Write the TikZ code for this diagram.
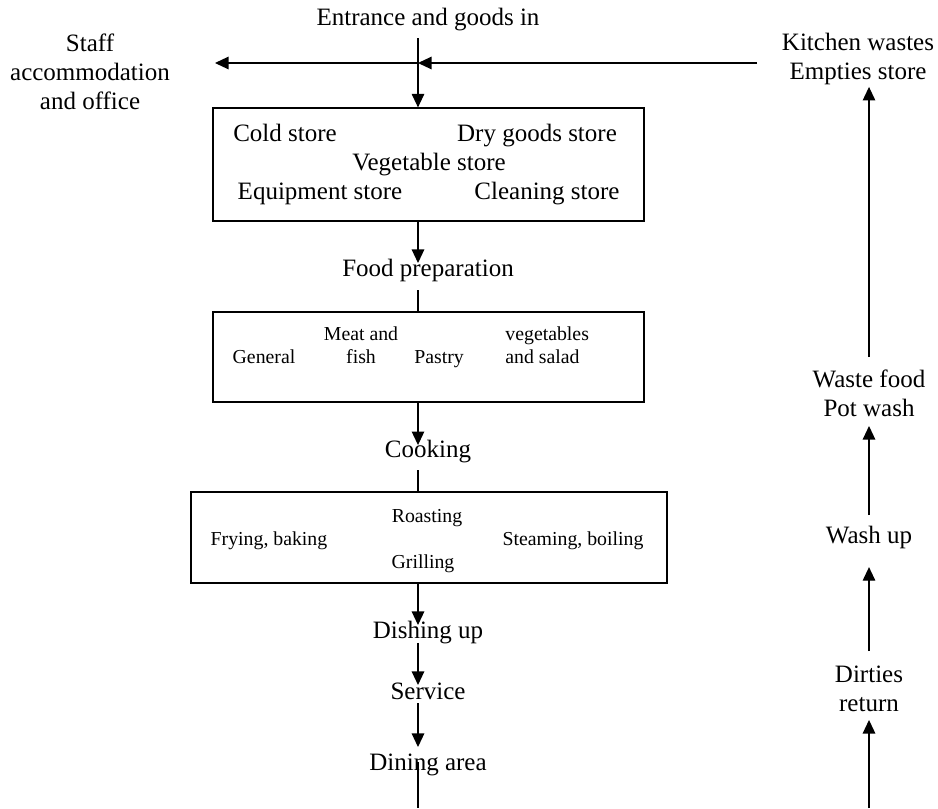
\documentclass[tikz,border=0pt]{standalone}
\usepackage{fontspec}
\setmainfont{Liberation Serif}
\usepackage{tikz}
\usetikzlibrary{arrows.meta,calc,positioning}
\tikzset{>={Triangle[length=6.5pt,width=6pt]}}
\tikzset{
  lblm/.style={inner sep=0pt, align=center, font=\fontsize{12}{13.8}\selectfont},
  lbl/.style={lblm, text height=11pt, text depth=2.5pt},
  smlm/.style={inner sep=0pt, align=center, font=\fontsize{9.5}{10.9}\selectfont},
  sml/.style={smlm, text height=9.5pt, text depth=2.5pt},
  room/.style={draw, line width=0.6pt, inner sep=0pt},
  flow/.style={->, line width=0.6pt},
  wire/.style={line width=0.6pt}
}

\begin{document}
\begin{tikzpicture}[x=0.48pt, y=-0.48pt]
            \useasboundingbox (0,0) rectangle (938,808);

            \coordinate (j) at (418,63);
            \coordinate (sa) at (215,63);
            \coordinate (kw) at (757,63);
            \coordinate (bot) at (418,808);
            \coordinate (rbot) at (869,808);

            \node[lbl] (entr) at (428,17) {Entrance and goods in};
            \node[lblm] (staff) at (90,72) {Staff\\accommodation\\and office};
            \node[lblm] (kitch) at (858,59) {Kitchen wastes\\Empties store};

            \node[room, minimum width=206.9pt, minimum height=54.2pt] (store) at (428.5,164.5) {};
            \node[lbl] (cold) at (285,133) {Cold store};
            \node[lbl] (dry) at (537,133) {Dry goods store};
            \node[lbl] (veg) at (429,162) {Vegetable store};
            \node[lbl] (equip) at (320,191) {Equipment store};
            \node[lbl] (clean) at (547,191) {Cleaning store};

            \node[lbl] (prep) at (428,268) {Food preparation};

            \node[room, minimum width=206.9pt, minimum height=43.2pt] (prepbox) at (428.5,357) {};
            \node[sml] (gen) at (264,356) {General};
            \node[smlm] (meat) at (361,345) {Meat and\\fish};
            \node[sml] (pastry) at (439,356) {Pastry};
            \node[smlm, align=left, anchor=west] (salad) at (505,345) {vegetables\\and salad};

            \node[lbl] (cook) at (428,449) {Cooking};

            \node[room, minimum width=228.5pt, minimum height=43.7pt] (cookbox) at (429,537.5) {};
            \node[sml] (roast) at (427,515) {Roasting};
            \node[sml] (fry) at (269,538) {Frying, baking};
            \node[sml] (steam) at (573,538) {Steaming, boiling};
            \node[sml] (grill) at (423,561) {Grilling};

            \node[lbl] (dish) at (428,630) {Dishing up};
            \node[lbl] (serv) at (428,691) {Service};
            \node[lbl] (dine) at (428,762) {Dining area};

            \node[lblm] (dirt) at (869,688.5) {Dirties\\return};
            \node[lbl] (wash) at (869,535) {Wash up};
            \node[lblm] (waste) at (869,393.5) {Waste food\\Pot wash};

            \draw[flow, shorten <=10.1pt] (entr.center -| j) -- (store.north -| j);
            \draw[flow] (kw) -- (j);
            \draw[flow] (j) -- (sa);

            \draw[flow, shorten >=2.4pt] (store.south -| j) -- (prep.center -| j);
            \draw[wire, shorten <=10.6pt] (prep.center -| j) -- (prepbox.north -| j);
            \draw[flow, shorten >=1.9pt] (prepbox.south -| j) -- (cook.center -| j);
            \draw[wire, shorten <=10.1pt] (cook.center -| j) -- (cookbox.north -| j);
            \draw[flow, shorten >=2.4pt] (cookbox.south -| j) -- (dish.center -| j);
            \draw[flow, shorten <=6.2pt, shorten >=2.9pt] (dish.center -| j) -- (serv.center -| j);
            \draw[flow, shorten <=5.8pt, shorten >=7.2pt] (serv.center -| j) -- (dine.center -| j);
            \draw[wire] (dine.center -| j) -- (bot);

            \draw[flow, shorten >=15.1pt] (rbot) -- (dirt.center);
            \draw[flow, shorten <=18pt, shorten >=15.4pt] (dirt.center) -- (wash.center);
            \draw[flow, shorten <=9.6pt, shorten >=15.6pt] (wash.center) -- (waste.center);
            \draw[flow, shorten <=17.5pt, shorten >=13.4pt] (waste.center) -- (kitch.center -| waste.center);
\end{tikzpicture}
\end{document}
